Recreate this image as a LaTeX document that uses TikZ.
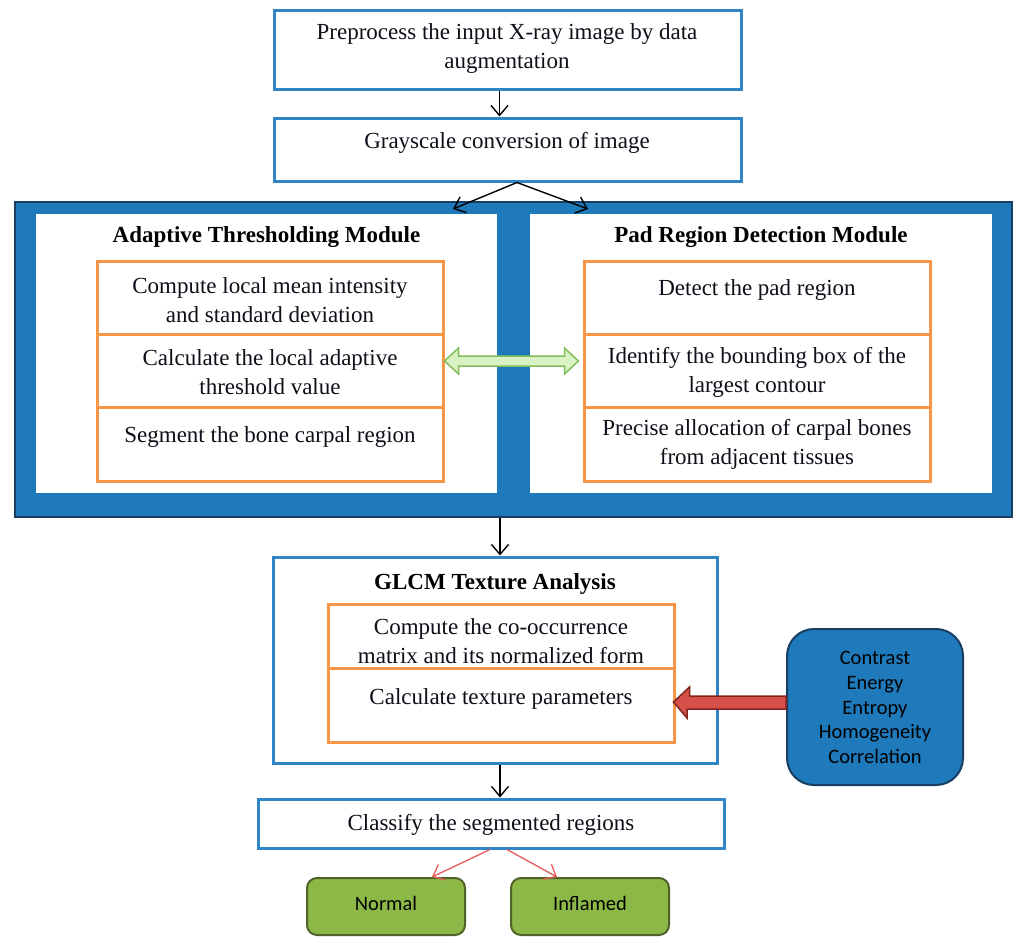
\documentclass[tikz,border=0pt]{standalone}
\usepackage{fontspec}
\setmainfont{Liberation Serif}
\newfontfamily\carlito{Carlito}
\usetikzlibrary{arrows.meta,calc}
\definecolor{boxblue}{RGB}{46,134,198}
\definecolor{bigfill}{RGB}{31,122,188}
\definecolor{bigedge}{RGB}{24,62,98}
\definecolor{orangeline}{RGB}{247,150,70}
\definecolor{garrowfill}{RGB}{216,242,196}
\definecolor{garrowline}{RGB}{130,190,90}
\definecolor{rarrowfill}{RGB}{214,80,74}
\definecolor{rarrowline}{RGB}{130,35,30}
\definecolor{gboxfill}{RGB}{140,184,72}
\definecolor{gboxline}{RGB}{79,98,40}
\definecolor{thinred}{RGB}{230,90,90}
\definecolor{txtcol}{RGB}{15,15,25}
\begin{document}
\begin{tikzpicture}[x=1pt,y=-1pt,
  bbox/.style={draw=boxblue,line width=3pt,fill=white,inner sep=0pt},
  obox/.style={draw=orangeline,line width=3pt,fill=white,inner sep=0pt,minimum width=346pt},
  panel/.style={fill=white,inner sep=0pt},
  txt/.style={align=center,inner sep=0pt,yshift=-2.5pt,text=txtcol,font=\fontsize{23}{29}\selectfont},
  ttl/.style={align=center,inner sep=0pt,yshift=-2.5pt,text=black,font=\fontsize{23}{29}\selectfont\bfseries},
  sans/.style={align=center,inner sep=0pt,text=black,font=\carlito\fontsize{20.5}{24.75}\selectfont},
  arr/.style={line width=1.4pt,-{Straight Barb[length=10pt,width=17pt]}},
  rarr/.style={draw=thinred,line width=1.3pt,-{Straight Barb[length=10pt,width=17pt]}},
  gbox/.style={draw=gboxline,fill=gboxfill,line width=2pt,rounded corners=10pt,minimum width=158pt,minimum height=57pt,inner sep=0pt}
]
\useasboundingbox (0,0) rectangle (1015,940);

% top boxes
\node[bbox,minimum width=467pt,minimum height=79pt] (b1) at (507.5,49.5) {};
\node[bbox,minimum width=467pt,minimum height=63pt] (b2) at (507.5,149.5) {};
\node[txt] (t1) at (507,46.5) {Preprocess the input X-ray image by data\\augmentation};
\node[txt] (t2) at (507,140) {Grayscale conversion of image};

% big module box
\node[draw=bigedge,fill=bigfill,line width=2pt,minimum width=997pt,minimum height=315pt,inner sep=0pt] (big) at (513.5,359.5) {};
\node[panel,minimum width=461pt,minimum height=279pt] (pL) at (266.5,353.5) {};
\node[panel,minimum width=462pt,minimum height=279pt] (pR) at (761,353.5) {};
\node[ttl] (tL) at (266.5,235) {Adaptive Thresholding Module};
\node[ttl] (tR) at (761,235) {Pad Region Detection Module};

\node[obox,minimum height=73pt] (oL1) at (270,297.5) {};
\node[obox,minimum height=73pt] (oL2) at (270,370.5) {};
\node[obox,minimum height=74pt] (oL3) at (270,444) {};
\node[obox,minimum height=73pt] (oR1) at (757,297.5) {};
\node[obox,minimum height=73pt] (oR2) at (757,370.5) {};
\node[obox,minimum height=74pt] (oR3) at (757,444) {};

\node[txt] (tL1) at (270,297.5) {Compute local mean intensity\\and standard deviation};
\node[txt] (tL2) at (270,369.5) {Calculate the local adaptive\\threshold value};
\node[txt] (tL3) at (270,434) {Segment the bone carpal region};
\node[txt] (tR1) at (757,287) {Detect the pad region};
\node[txt] (tR2) at (757,369.5) {Identify the bounding box of the\\largest contour};
\node[txt] (tR3) at (757,442) {Precise allocation of carpal bones\\from adjacent tissues};

% green double arrow
\draw[fill=garrowfill,draw=garrowline,line width=1.5pt,line join=miter]
  ([yshift=9.5pt]oL2.east) -- ++(14,-13) -- ++(0,8) -- ++(106,0) -- ++(0,-8) -- ++(14,13)
  -- ++(-14,13) -- ++(0,-8) -- ++(-106,0) -- ++(0,8) -- cycle;

% GLCM
\node[bbox,minimum width=444pt,minimum height=206pt] (glcm) at (495,660) {};
\node[ttl] (tG) at (495,581) {GLCM Texture Analysis};
\node[obox,minimum height=64pt] (g1) at (501,636) {};
\node[obox,minimum height=74pt] (g2) at (501,705) {};
\node[txt] (tG1) at (501,639) {Compute the co-occurrence\\matrix and its normalized form};
\node[txt] (tG2) at (501,696) {Calculate texture parameters};

% parameters box
\node[draw=bigedge,fill=bigfill,line width=2pt,rounded corners=27pt,minimum width=176pt,minimum height=156pt,inner sep=0pt] (par) at (875,707) {};
\node[sans] (tP) at (875,707.5) {Contrast\\Energy\\Entropy\\Homogeneity\\Correlation};

% red block arrow
\draw[fill=rarrowfill,draw=rarrowline,line width=1.5pt,line join=miter]
  ([xshift=-2pt,yshift=3pt]g2.east) -- ++(16,-15) -- ++(0,9) -- (par.west |- 0,696) -- (par.west |- 0,709) -- ++(-99,0) -- ++(0,9) -- cycle;

% classify
\node[bbox,minimum width=466pt,minimum height=49pt] (cls) at (491,823.5) {};
\node[txt] (tC) at (491,822) {Classify the segmented regions};

\node[gbox] (nor) at (386,906.5) {};
\node[gbox] (inf) at (590,906.5) {};
\node[sans] (tN) at (386,903) {Normal};
\node[sans] (tI) at (590,903) {Inflamed};

% connectors
\draw[arr] ([xshift=-8pt]b1.south) -- ([xshift=-8pt]b2.north);
\draw[arr] ([xshift=9.5pt]b2.south) -- ([xshift=-60.5pt,yshift=-8pt]big.north);
\draw[arr] ([xshift=9.5pt]b2.south) -- ([xshift=74.5pt,yshift=-8pt]big.north);
\draw[arr] ([xshift=-13.5pt]big.south) -- ([xshift=5pt]glcm.north);
\draw[arr] ([xshift=5pt]glcm.south) -- ([xshift=9pt]cls.north);
\draw[rarr] ([xshift=-1pt]cls.south) -- ([xshift=46pt]nor.north);
\draw[rarr] ([xshift=16pt]cls.south) -- ([xshift=-33pt]inf.north);
\end{tikzpicture}
\end{document}
